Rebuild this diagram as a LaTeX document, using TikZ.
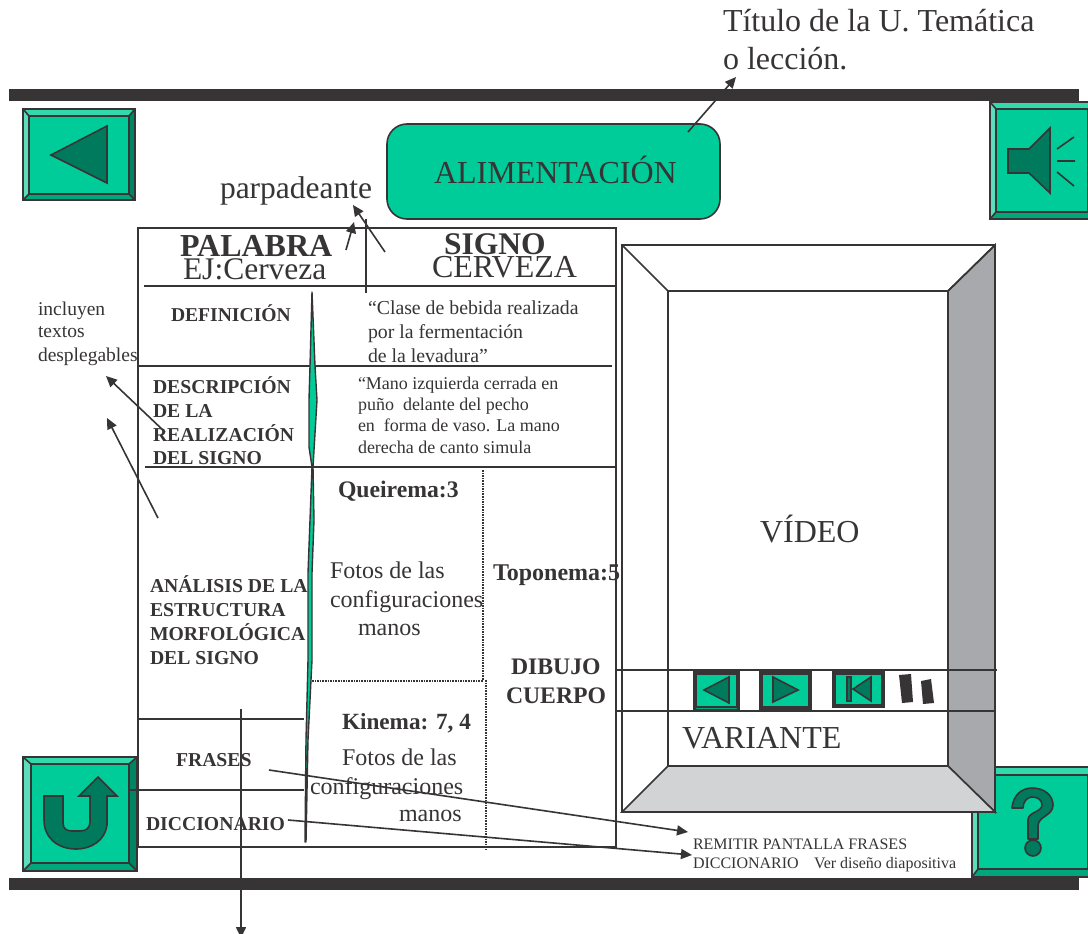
\documentclass[tikz,border=0pt]{standalone}
\usepackage{fontspec}
\setmainfont{Liberation Serif}
\usetikzlibrary{arrows.meta}
\definecolor{ink}{HTML}{373435}
\definecolor{mint}{HTML}{00CC99}
\definecolor{deep}{HTML}{007A5C}
\definecolor{bevT}{HTML}{33D9AD}
\definecolor{bevL}{HTML}{5CDDBB}
\definecolor{bevR}{HTML}{008563}
\definecolor{bevB}{HTML}{00A67C}
\definecolor{frameR}{HTML}{A7A9AC}
\definecolor{frameB}{HTML}{D1D3D4}
\newcommand{\fs}[1]{\fontsize{#1}{#1}\selectfont}
\newcommand{\bevelbtn}[8]{%
 \fill[bevT] (#1,#2)--(#3,#2)--(#7,#6)--(#5,#6)--cycle;
 \fill[bevL] (#1,#2)--(#5,#6)--(#5,#8)--(#1,#4)--cycle;
 \fill[bevR] (#3,#2)--(#7,#6)--(#7,#8)--(#3,#4)--cycle;
 \fill[bevB] (#1,#4)--(#5,#8)--(#7,#8)--(#3,#4)--cycle;
 \draw[btnline,fill=mint] (#5,#6) rectangle (#7,#8);
 \draw[btnline] (#1,#2) rectangle (#3,#4);
 \draw[btnline] (#1,#2)--(#5,#6) (#3,#2)--(#7,#6) (#1,#4)--(#5,#8) (#3,#4)--(#7,#8);
}
\tikzset{
 x=1pt,y=-1pt,
 btnline/.style={draw=ink,line width=1.6pt,line join=miter},
 glyph/.style={draw=ink,fill=deep,line width=1.6pt,line join=miter},
 rule/.style={draw=ink,line width=1.6pt},
 band/.style={fill=ink,draw=none},
 arrowline/.style={draw=ink,line width=1.6pt,-{Triangle[length=11pt,width=10pt]}},
 txt/.style={anchor=base west,inner sep=0pt,outer sep=0pt,text=ink},
 dots/.style={draw=ink,line width=2pt,dash pattern=on 1.6pt off 1pt},
}
\begin{document}
\begin{tikzpicture}
\useasboundingbox (0,0) rectangle (1088,934);
\fill[white] (0,0) rectangle (1088,934);
% bands
\fill[band] (9,89) rectangle (1079,101);
\fill[band] (9,878) rectangle (1079,890);
% back button
\bevelbtn{23}{109}{135}{200}{29}{116}{129}{194}
\draw[glyph] (51,155)--(107,126)--(107,183)--cycle;
% speaker button
\bevelbtn{990}{102}{1094}{219}{996}{109}{1088}{212}
\draw[glyph] (1008,149)--(1029,149)--(1050,128)--(1050,193)--(1029,173)--(1008,173)--cycle;
\draw[rule] (1057,149)--(1074,137) (1057,161)--(1075,161) (1057,172)--(1074,186);
% question button
\bevelbtn{972}{767}{1094}{877}{978}{775}{1088}{869}
\draw[glyph,line join=round] (1012,808) .. controls (1013,796) and (1021,788) .. (1032,788) .. controls (1045,788) and (1053,796) .. (1053,805) .. controls (1053,816) and (1038,816) .. (1038,826) -- (1038,839) -- (1028,839) -- (1028,820) .. controls (1028,812) and (1042,812) .. (1042,805) .. controls (1042,800) and (1038,797) .. (1032,797) .. controls (1027,797) and (1023,802) .. (1023,808) -- cycle;
\draw[glyph] (1033,848) circle (8);
% U button
\bevelbtn{23}{757}{137}{871}{31}{764}{129}{863}
\draw[glyph] (44,796)--(63,796)--(63,823) .. controls (63,829) and (67,831) .. (72,831) -- (80,831) .. controls (86,831) and (90,828) .. (90,822) -- (90,796)--(79,796)--(98,777)--(117,796)--(107,796)--(107,825) .. controls (105,840) and (92,849) .. (76,849) .. controls (58,849) and (44,838) .. (44,820) --cycle;
% title box
\draw[rule,fill=mint,rounded corners=20pt] (387,124) rectangle (720,219);
\node[txt] (alim) at (434,183) {\fs{32}ALIMENTACIÓN};
% title text
\node[txt] (tit1) at (723,32) {\fs{32}Título de la U. Temática};
\node[txt] (tit2) at (723,70) {\fs{32}o lección.};
\coordinate (titS) at (688,132);
\coordinate (titE) at (736,77);
\draw[arrowline] (titS)--(titE);
% parpadeante
\node[txt] (parp) at (220,198) {\fs{31.5}parpadeante};
\coordinate (p1s) at (346,250);
\coordinate (p1e) at (354,222);
\coordinate (p2s) at (385,252);
\coordinate (p2e) at (353,205);
\draw[arrowline] (p1s)--(p1e);
\draw[arrowline] (p2s)--(p2e);
% table
\draw[rule] (138,228) rectangle (616,847);
\draw[rule] (144,286)--(616,286);
\draw[rule] (366,219)--(366,293);
\draw[rule] (138,366)--(612,366);
\draw[rule] (145,467)--(616,467);
\draw[rule] (138,719)--(304,719);
\draw[rule] (130,790)--(304,790);
% sliver
\draw[draw=ink,fill=mint,line width=1.4pt,line join=round] (312,292)--(310,366)--(309,400)--(309,447)--(312,467)--(310,520)--(308,573)--(308,660)--(306,740)--(305,842)--(306,842)--(308,740)--(312,660)--(312,573)--(314,520)--(313,467)--(317,400)--(315,366)--cycle;
% dotted
\draw[dots] (483,470)--(483,680);
\draw[dots] (486,680)--(486,850);
\draw[dots] (312,681)--(483,681);
% table text
\node[txt] (pal) at (180,256) {\fs{32}\bfseries PALABRA};
\node[txt] (ej) at (183,279) {\fs{31.5}EJ:Cerveza};
\node[txt] (sig) at (444,254) {\fs{31.5}\bfseries SIGNO};
\node[txt] (cer) at (432,277) {\fs{32}CERVEZA};
\node[txt] (inc1) at (38,315) {\fs{19.5}incluyen};
\node[txt] (inc2) at (38,337) {\fs{19.5}textos};
\node[txt] (inc3) at (38,361) {\fs{19.5}desplegables};
\node[txt] (defi) at (171,321) {\fs{19.6}\bfseries DEFINICIÓN};
\node[txt] (cl1) at (368,314) {\fs{19.8}“Clase de bebida realizada};
\node[txt] (cl2) at (368,338) {\fs{19.8}por la fermentación};
\node[txt] (cl3) at (368,362) {\fs{19.8}de la levadura”};
\node[txt] (de1) at (153,393) {\fs{19.7}\bfseries DESCRIPCIÓN};
\node[txt] (de2) at (153,417) {\fs{19.7}\bfseries DE LA};
\node[txt] (de3) at (153,441) {\fs{19.7}\bfseries REALIZACIÓN};
\node[txt] (de4) at (153,464) {\fs{19.7}\bfseries DEL SIGNO};
\node[txt] (ma1) at (358,389) {\fs{18}“Mano izquierda cerrada en};
\node[txt] (ma2) at (358,410) {\fs{18}puño\ \ delante del pecho};
\node[txt] (ma3) at (358,431) {\fs{18}en\ \ forma de vaso. La mano};
\node[txt] (ma4) at (358,453) {\fs{18}derecha de canto simula};
\node[txt] (que) at (338,497) {\fs{23.7}\bfseries Queirema:3};
\node[txt] (fo1) at (330,578) {\fs{24}Fotos de las};
\node[txt] (fo2) at (330,607) {\fs{24}configuraciones};
\node[txt] (fo3) at (358,635) {\fs{24}manos};
\node[txt] (top) at (493,580) {\fs{24}\bfseries Toponema:5};
\node[txt] (dib) at (511,674) {\fs{23.7}\bfseries DIBUJO};
\node[txt] (cue) at (506,703) {\fs{23.7}\bfseries CUERPO};
\node[txt] (an1) at (150,592) {\fs{19.7}\bfseries ANÁLISIS DE LA};
\node[txt] (an2) at (150,616) {\fs{19.7}\bfseries ESTRUCTURA};
\node[txt] (an3) at (150,640) {\fs{19.7}\bfseries MORFOLÓGICA};
\node[txt] (an4) at (150,664) {\fs{19.7}\bfseries DEL SIGNO};
\node[txt] (kin) at (342,729) {\fs{23.2}\bfseries Kinema: 7, 4};
\node[txt] (fk1) at (342,765) {\fs{24}Fotos de las};
\node[txt] (fk2) at (310,794) {\fs{24}configuraciones};
\node[txt] (fk3) at (399,821) {\fs{24}manos};
\node[txt] (fra) at (176,766) {\fs{19.7}\bfseries FRASES};
\node[txt] (dic) at (146,830) {\fs{19.7}\bfseries DICCIONARIO};
\node[txt] (rem) at (693,849) {\fs{16}REMITIR PANTALLA FRASES};
\node[txt] (dc2) at (693,868) {\fs{16}DICCIONARIO};
\node[txt] (ver) at (814,868) {\fs{16}Ver diseño diapositiva};
% left arrows
\coordinate (a1s) at (165,432);
\coordinate (a1e) at (106,376);
\coordinate (a2s) at (158,518);
\coordinate (a2e) at (107,418);
\draw[arrowline] (a1s)--(a1e);
\draw[arrowline] (a2s)--(a2e);
% down arrow
\coordinate (ds) at (241,709);
\coordinate (de) at (241,938);
\draw[arrowline] (ds)--(de);
% remit arrows
\coordinate (fs) at (269,770);
\coordinate (fe) at (688,832);
\coordinate (ks) at (288,820);
\coordinate (ke) at (692,855);
\draw[arrowline] (fs)--(fe);
\draw[arrowline] (ks)--(ke);
% video frame
\draw[rule,fill=white] (622,245) rectangle (995,812);
\draw[rule,fill=frameR] (948,291)--(995,245)--(995,812)--(948,766)--cycle;
\draw[rule,fill=frameB] (622,812)--(668,766)--(948,766)--(995,812)--cycle;
\draw[rule] (622,245)--(668,291) (995,245)--(948,291);
\draw[rule] (668,291) rectangle (948,766);
\node[txt] (vid) at (760,542) {\fs{32}VÍDEO};
\node[txt] (var) at (682,748) {\fs{32}VARIANTE};
\draw[rule] (616,670)--(997,670);
\draw[rule] (616,711)--(995,711);
% small buttons
\bevelbtn{694}{672}{739}{710}{696}{674}{737}{707}
\draw[glyph] (704,690)--(729,677)--(729,703)--cycle;
\bevelbtn{760}{672}{811}{709}{762}{674}{809}{707}
\draw[glyph] (773,677)--(798,690)--(773,702)--cycle;
\bevelbtn{833}{672}{884}{707}{835}{674}{882}{705}
\draw[glyph] (871,677)--(871,701)--(853,689)--cycle;
\draw[glyph] (847,677) rectangle (851,701);
\fill[ink] (899,675)--(911,674)--(913,702)--(902,703)--cycle;
\fill[ink] (921,681)--(931,679)--(934,703)--(923,704)--cycle;
\end{tikzpicture}
\end{document}
